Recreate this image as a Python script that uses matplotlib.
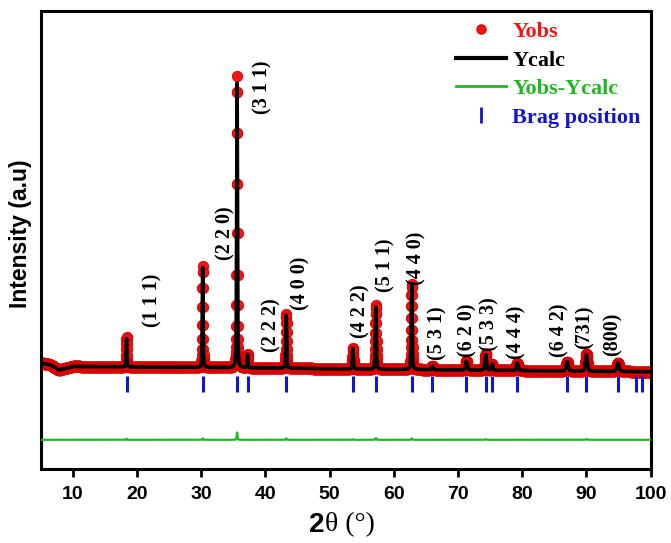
import numpy as np
import matplotlib
matplotlib.use('Agg')
import matplotlib.pyplot as plt
from matplotlib.lines import Line2D

# ---- data ----
peak_pos = [18.36, 30.22, 35.58, 37.22, 43.24, 53.62, 57.20, 62.78, 66.00, 71.30,
            74.30, 75.30, 79.20, 87.00, 90.00, 94.90]
peak_obs = [10.0, 34.5, 99.5, 4.5, 18.5, 7.2, 21.8, 29.0, 1.2, 3.0,
            5.5, 2.0, 2.5, 3.2, 5.8, 3.0]
peak_calc = [9.6, 34.0, 97.0, 4.5, 18.0, 7.0, 21.2, 28.5, 1.2, 3.0,
             5.3, 2.0, 2.5, 3.2, 5.6, 3.0]
peak_fwhm = [0.14, 0.14, 0.15, 0.15, 0.16, 0.18, 0.18, 0.19, 0.28, 0.30,
             0.28, 0.28, 0.32, 0.38, 0.34, 0.40]
bg_x = [5.0, 6.5, 7.8, 10.0, 30.0, 60.0, 100.0]
bg_y = [1.2, 0.6, -1.2, 0.0, -0.3, -1.0, -1.8]
bragg_pos = [18.36, 30.22, 35.58, 37.22, 43.24, 53.62, 57.20, 62.78, 66.00, 71.30,
             74.30, 75.30, 79.20, 87.00, 90.00, 94.90, 97.70, 98.70]
hkl_labels = ['(1 1 1)', '(2 2 0)', '(3 1 1)', '(2 2 2)', '(4 0 0)', '(4 2 2)',
              '(5 1 1)', '(4 4 0)', '(5 3 1)', '(6 2 0)', '(5 3 3)', '(4 4 4)',
              '(6 4 2)', '(731)', '(800)']
hkl_x = [22.4, 33.7, 39.5, 40.9, 45.5, 54.8, 58.7, 63.6, 66.8, 71.4, 74.9, 79.1,
         85.8, 89.7, 94.1]
hkl_y = [22.5, 45.5, 95.0, 14.0, 28.5, 19.0, 34.5, 37.0, 11.5, 12.5, 14.5, 11.5,
         12.5, 13.5, 11.0]
xticks = [10, 20, 30, 40, 50, 60, 70, 80, 90, 100]
diff_offset = -25.0
bragg_y = -6.0

# ---- profiles built from the peak list ----
tt = np.arange(5.0, 100.0001, 0.02)


def profile(heights):
    y = np.interp(tt, bg_x, bg_y)
    for p, h, w in zip(peak_pos, heights, peak_fwhm):
        u = (tt - p) / w
        g = np.exp(-4 * np.log(2) * u ** 2)
        lor = 1.0 / (1.0 + 4 * u ** 2)
        y = y + h * (0.6 * g + 0.4 * lor)
    return y


yobs = profile(peak_obs)
ycalc = profile(peak_calc)
ydiff = yobs - ycalc + diff_offset

RED = '#f21414'
GREEN = '#1fb81f'
BLUE = '#1414c8'

fig = plt.figure(figsize=(6.71, 5.43), dpi=100)
ax = fig.add_axes([0.0607, 0.136, 0.909, 0.843])

ax.plot(tt, yobs, 'o', ms=7.5, mfc=RED, mec='#d80000', mew=0.6, zorder=2)
ax.plot(tt, ycalc, color='black', lw=2.6, zorder=3)
ax.plot(tt, ydiff, color=GREEN, lw=1.6, zorder=3)
ax.plot(bragg_pos, [bragg_y] * len(bragg_pos), '|', color=BLUE, ms=12, mew=2.2,
        zorder=3)

for lab, x, y in zip(hkl_labels, hkl_x, hkl_y):
    ax.text(x, y, lab, rotation=90, ha='center', va='center',
            family='Liberation Serif', fontweight='bold', fontsize=14.5)

ax.set_xlim(5, 100)
ax.set_ylim(-35, 121)
ax.set_xticks(xticks)
ax.set_yticks([])
ax.tick_params(axis='x', direction='out', length=6, width=2, pad=6)
for t in ax.get_xticklabels():
    t.set_fontfamily('Liberation Sans')
    t.set_fontweight('bold')
    t.set_fontsize(14)
for s in ax.spines.values():
    s.set_linewidth(2.2)

ax.set_ylabel('Intensity (a.u)', family='Liberation Sans', fontweight='bold',
              fontsize=16.5)
ax.yaxis.set_label_coords(-0.015, 0.515)

fig.text(0.483, 0.034, '2', ha='right', va='center', family='Liberation Sans',
         fontweight='bold', fontsize=20)
fig.text(0.484, 0.034, 'θ (°)', ha='left', va='center', family='Liberation Serif',
         fontsize=20)

handles = [
    Line2D([], [], marker='o', ls='none', ms=6.5, mfc=RED, mec='#d80000'),
    Line2D([], [], color='black', lw=3),
    Line2D([], [], color=GREEN, lw=2),
    Line2D([], [], marker='|', ls='none', color=BLUE, ms=11, mew=2),
]
labels = ['Yobs', 'Ycalc', 'Yobs-Ycalc', 'Brag position']
leg = ax.legend(handles, labels, loc='upper right', frameon=False,
                prop=dict(family='Liberation Serif', weight='bold', size=16),
                handlelength=2.25, handletextpad=0.3, labelspacing=0.36,
                borderaxespad=0.05, borderpad=0.4)
for txt, c in zip(leg.get_texts(), [RED, 'black', GREEN, BLUE]):
    txt.set_color(c)

fig.savefig('out.png', dpi=100)
